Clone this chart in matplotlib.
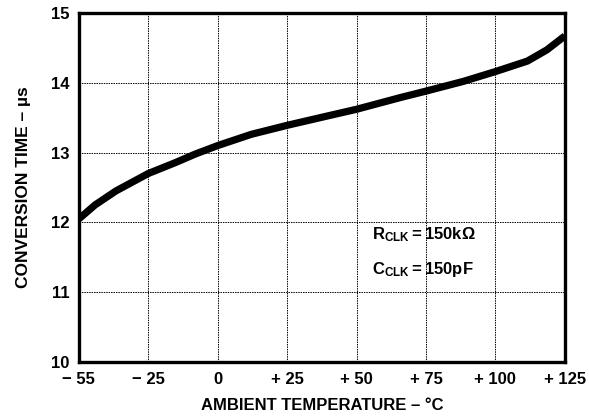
import numpy as np
import matplotlib
matplotlib.use('Agg')
import matplotlib.pyplot as plt

# curve
temp = [-55, -48, -39, -25, -15, -8, 0, 12, 25, 38, 50, 66, 75, 88.5, 100, 111.5, 118.5, 125]
tconv = [12.05, 12.25, 12.45, 12.70, 12.86, 12.98, 13.10, 13.26, 13.39, 13.51, 13.62, 13.79,
         13.88, 14.02, 14.16, 14.31, 14.47, 14.67]

xticks = [-55, -25, 0, 25, 50, 75, 100, 125]
xlabels = ['\u2212 55', '\u2212 25', '0', '+ 25', '+ 50', '+ 75', '+ 100', '+ 125']
yticks = [10, 11, 12, 13, 14, 15]

# ticks are equally spaced on the sheet, so -55..-25 is squeezed
pos = np.arange(len(xticks))
fwd = lambda x: np.interp(x, xticks, pos)
inv = lambda p: np.interp(p, pos, xticks)

plt.rcParams['font.family'] = 'Liberation Sans'
plt.rcParams['font.weight'] = 'bold'
plt.rcParams['mathtext.fontset'] = 'custom'
plt.rcParams['mathtext.rm'] = 'Liberation Sans:bold'
plt.rcParams['mathtext.it'] = 'Liberation Sans:bold'
plt.rcParams['mathtext.bf'] = 'Liberation Sans:bold'

fig = plt.figure(figsize=(5.89, 4.17), dpi=100)
ax = fig.add_axes([0.134, 0.132, 0.825, 0.837])
ax.set_xscale('function', functions=(fwd, inv))

ax.plot(temp, tconv, color='k', lw=5.2, solid_capstyle='butt', solid_joinstyle='round', zorder=3)

ax.set_xlim(-55, 125)
ax.set_ylim(10, 15)
ax.set_xticks(xticks)
ax.set_xticklabels(xlabels)
ax.set_yticks(yticks)
ax.minorticks_off()
ax.tick_params(length=0, labelsize=12, pad=7)
for lab in ax.get_xticklabels() + ax.get_yticklabels():
    lab.set_fontweight('bold')

ax.grid(True, color='k', lw=0.7, ls=(0, (1.5, 1)))
for s in ax.spines.values():
    s.set_linewidth(2.4)

ax.set_xlabel('AMBIENT TEMPERATURE \u2013 \u00b0C', fontsize=12, fontweight='bold', labelpad=8)
ax.set_ylabel('CONVERSION TIME \u2013 \u00b5s', fontsize=12.5, fontweight='bold', labelpad=14)

ax.text(0.603, 0.365, r'$\mathrm{R_{CLK}=150k\Omega}$', transform=ax.transAxes,
        fontsize=12, va='center', ha='left')
ax.text(0.603, 0.265, r'$\mathrm{C_{CLK}=150pF}$', transform=ax.transAxes,
        fontsize=12, va='center', ha='left')

fig.savefig('out.png', dpi=100)
